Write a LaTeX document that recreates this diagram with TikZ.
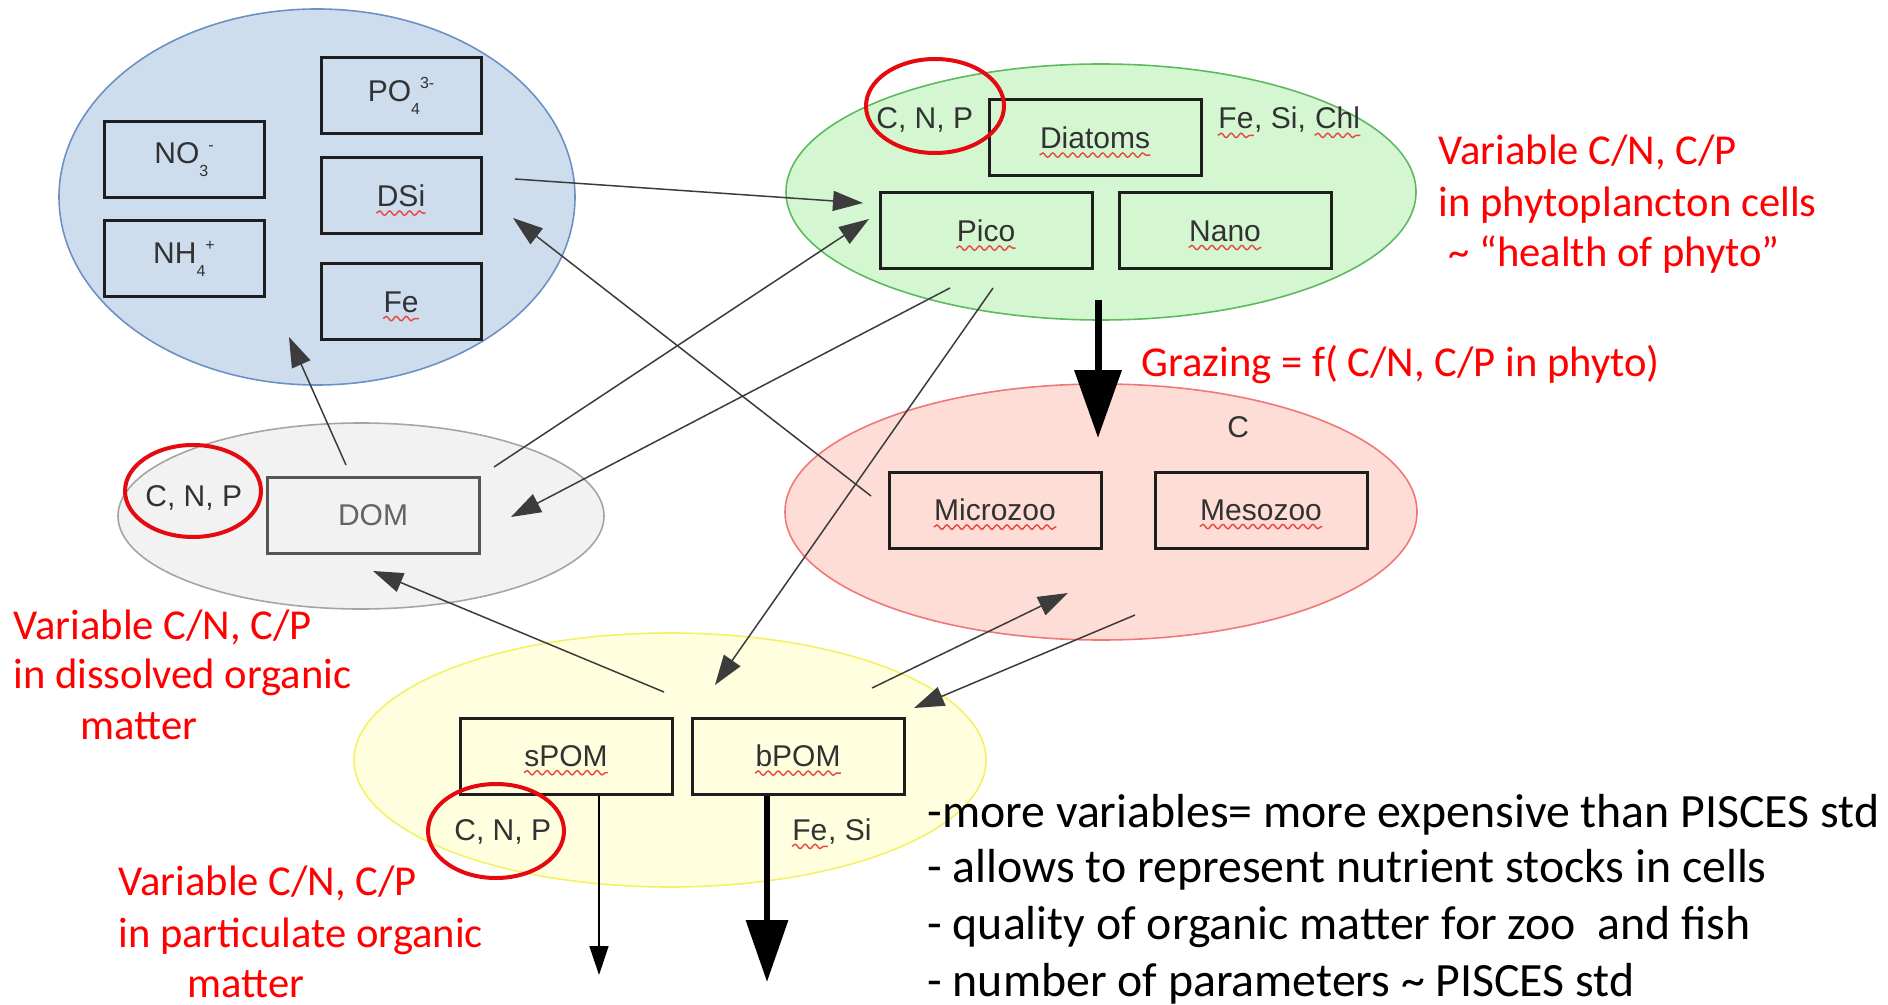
\documentclass[tikz,border=0pt]{standalone}
\usepackage{fontspec}
\setmainfont{Carlito}
\newfontfamily\labelfont{Liberation Sans}
\usetikzlibrary{arrows.meta,shapes.geometric,decorations.pathmorphing}

\definecolor{nutFill}{RGB}{205,221,238}
\definecolor{nutLine}{RGB}{110,145,195}
\definecolor{phyFill}{RGB}{212,247,210}
\definecolor{phyLine}{RGB}{95,185,95}
\definecolor{zooFill}{RGB}{255,221,215}
\definecolor{zooLine}{RGB}{240,120,120}
\definecolor{domFill}{RGB}{242,242,242}
\definecolor{domLine}{RGB}{165,165,165}
\definecolor{pomFill}{RGB}{255,255,224}
\definecolor{pomLine}{RGB}{245,240,100}
\definecolor{boxLine}{RGB}{30,30,30}
\definecolor{labText}{RGB}{50,50,50}
\definecolor{domText}{RGB}{100,100,100}
\definecolor{connLine}{RGB}{60,60,60}
\definecolor{ringRed}{RGB}{228,10,16}
\definecolor{spellRed}{RGB}{235,70,60}

% chemical species with subscript and charge
\newcommand\ionlabel[3]{#1\raisebox{-6.5pt}{\fontsize{8}{8}\selectfont #2}\raisebox{6.5pt}{\fontsize{8}{8}\selectfont #3}}
% red wavy underline below a label node
\newcommand\spell[1]{\draw[wavy] ([yshift=-3.2pt]#1.base west) -- ([yshift=-3.2pt]#1.base east);}

\begin{document}
\begin{tikzpicture}[x=0.5pt,y=-0.5pt,
  pool/.style={ellipse, inner sep=0pt, line width=0.8pt},
  ring/.style={ellipse, draw=ringRed, line width=2pt, inner sep=0pt},
  box/.style={draw=boxLine, line width=1.5pt, minimum width=106pt, minimum height=38pt, inner sep=0pt},
  nbox/.style={box, minimum width=80pt},
  lbl/.style={font=\labelfont\fontsize{15}{18}\selectfont, text=labText, inner sep=0pt},
  note/.style={font=\fontsize{21.3}{25}\selectfont, text=red, inner sep=0pt, anchor=base west},
  remark/.style={font=\fontsize{23.9}{28}\selectfont, text=black, inner sep=0pt, anchor=base west},
  conn/.style={draw=connLine, line width=0.75pt, -{Triangle[length=15pt,width=10pt]}},
  wavy/.style={draw=spellRed, line width=0.7pt, decorate, decoration={snake, amplitude=1.1pt, segment length=5pt}}
]
\useasboundingbox (0,0) rectangle (1888,1005);

% ---- compartments ----
\node[pool, draw=nutLine, fill=nutFill, minimum width=258pt, minimum height=188pt] (nutPool) at (317,197) {};
\node[pool, draw=phyLine, fill=phyFill, minimum width=315pt, minimum height=128pt] (phyPool) at (1101,192) {};
\node[pool, draw=zooLine, fill=zooFill, minimum width=316pt, minimum height=128pt] (zooPool) at (1101,512) {};
\node[pool, draw=domLine, fill=domFill, minimum width=243pt, minimum height=93pt] (domPool) at (361,516) {};
\node[pool, draw=pomLine, fill=pomFill, minimum width=316pt, minimum height=127pt] (pomPool) at (670,760) {};

% ---- connector end points ----
\coordinate (dsiOut) at (515,179);
\coordinate (picoInA) at (863,203);
\coordinate (microOut) at (871,496);
\coordinate (dsiIn) at (513,218);
\coordinate (domOutA) at (494,467);
\coordinate (picoInB) at (869,219);
\coordinate (picoOutA) at (950,288);
\coordinate (domInA) at (511,517);
\coordinate (domOutB) at (346,465);
\coordinate (nutIn) at (289,337);
\coordinate (picoOutB) at (993,288);
\coordinate (bpomInA) at (715,685);
\coordinate (spomOut) at (664,692);
\coordinate (domInB) at (373,571);
\coordinate (bpomOut) at (872,688);
\coordinate (microIn) at (1068,593);
\coordinate (zooOut) at (1135,615);
\coordinate (bpomInB) at (914,708);
\coordinate (grazeFrom) at (1098,300);
\coordinate (grazeTo) at (1098,438);
\coordinate (spomSink) at (599,975);
\coordinate (bpomSink) at (767,982);

% ---- boxes ----
\node[nbox] (po4) at (401,96) {};
\node[nbox] (no3) at (184,160) {};
\node[nbox] (dsi) at (401,196) {};
\node[nbox] (nh4) at (184,259) {};
\node[nbox] (fe) at (401,302) {};
\node[box] (diat) at (1095,138) {};
\node[box] (pico) at (986,231) {};
\node[box] (nano) at (1225,231) {};
\node[box] (micro) at (995,510) {};
\node[box] (meso) at (1261,510) {};
\node[box, draw=domText!85!black] (dom) at (373,515) {};
\node[box] (spom) at (566,756) {};
\node[box] (bpom) at (798,756) {};

% ---- fluxes ----
\draw[conn] (dsiOut) -- (picoInA);
\draw[conn] (microOut) -- (dsiIn);
\draw[conn] (domOutA) -- (picoInB);
\draw[conn] (picoOutA) -- (domInA);
\draw[conn] (domOutB) -- (nutIn);
\draw[conn] (picoOutB) -- (bpomInA);
\draw[conn] (spomOut) -- (domInB);
\draw[conn] (bpomOut) -- (microIn);
\draw[conn] (zooOut) -- (bpomInB);
\draw[draw=black, line width=3.5pt, -{Triangle[length=34pt,width=23pt]}] (grazeFrom) -- (grazeTo);
\draw[conn, draw=black, -{Triangle[length=14.5pt,width=9.5pt]}] (spom.south -| spomSink) -- (spomSink);
\draw[draw=black, line width=3.3pt, -{Triangle[length=31pt,width=20.5pt]}] (bpom.south -| bpomSink) -- (bpomSink);

% ---- box labels ----
\node[lbl] (po4T) at (po4) {\ionlabel{PO}{4}{3-}};
\node[lbl] (no3T) at (no3) {\ionlabel{NO}{3}{-}};
\node[lbl] (dsiT) at (dsi) {DSi};
\node[lbl] (nh4T) at (nh4) {\ionlabel{NH}{4}{+}};
\node[lbl] (feT) at (fe) {Fe};
\node[lbl] (diatT) at (diat) {Diatoms};
\node[lbl] (picoT) at (pico) {Pico};
\node[lbl] (nanoT) at (nano) {Nano};
\node[lbl] (microT) at (micro) {Microzoo};
\node[lbl] (mesoT) at (meso) {Mesozoo};
\node[lbl, text=domText] (domT) at (dom) {DOM};
\node[lbl] (spomT) at (spom) {sPOM};
\node[lbl] (bpomT) at (bpom) {bPOM};

% ---- element labels ----
\node[lbl, anchor=base west] (phyCNP) at (876,129) {C, N, P};
\node[lbl, anchor=base west] (phyFe) at (1218,129) {Fe};
\node[lbl, anchor=base west] (phySi) at (phyFe.base east) {,\kern.278em Si,\kern.278em};
\node[lbl, anchor=base west] (phyChl) at (phySi.base east) {Chl};
\node[lbl, anchor=base west] (zooC) at (1227,437) {C};
\node[lbl, anchor=base west] (domCNP) at (145,506) {C, N, P};
\node[lbl, anchor=base west] (pomCNP) at (454,840) {C, N, P};
\node[lbl, anchor=base west] (pomFe) at (792,840) {Fe};
\node[lbl, anchor=base west] (pomSi) at (pomFe.base east) {, Si};

% ---- spelling marks ----
\spell{dsiT}
\spell{feT}
\spell{diatT}
\spell{picoT}
\spell{nanoT}
\spell{microT}
\spell{mesoT}
\spell{spomT}
\spell{bpomT}
\spell{phyFe}
\spell{phyChl}
\spell{pomFe}

% ---- highlight rings ----
\node[ring, minimum width=69pt, minimum height=47pt] (ringPhy) at (935,106) {};
\node[ring, minimum width=68pt, minimum height=46pt] (ringDom) at (193,491) {};
\node[ring, minimum width=68pt, minimum height=47pt] (ringPom) at (496,831) {};

% ---- annotations ----
\node[note] (phyNote1) at (1438,165) {Variable C/N, C/P};
\node[note] (phyNote2) at (1438,217) {in phytoplancton cells};
\node[note] (phyNote3) at (1448,267) {\textasciitilde\ “health of phyto”};
\node[note] (grazeNote) at (1141,377) {Grazing = f( C/N, C/P in phyto)};
\node[note] (domNote1) at (13,639) {Variable C/N, C/P};
\node[note] (domNote2) at (13,688) {in dissolved organic};
\node[note] (domNote3) at (80,739) {matter};
\node[note] (pomNote1) at (118,895) {Variable C/N, C/P};
\node[note] (pomNote2) at (118,947) {in particulate organic};
\node[note] (pomNote3) at (187,997) {matter};

\node[remark] (rem1) at (927,827) {-more variables= more expensive than PISCES std};
\node[remark] (rem2) at (927,882) {- allows to represent nutrient stocks in cells};
\node[remark] (rem3) at (927,939) {- quality of organic matter for zoo\ \ and fish};
\node[remark] (rem4) at (927,996) {- number of parameters \textasciitilde\ PISCES std};
\end{tikzpicture}
\end{document}
